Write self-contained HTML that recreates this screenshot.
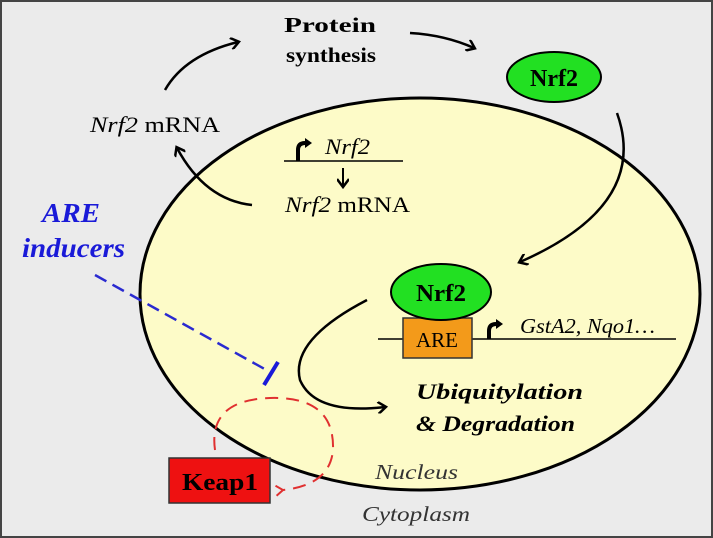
<!DOCTYPE html>
<html><head><meta charset="utf-8"><style>
html,body{margin:0;padding:0;background:#fff}
svg{display:block}
text{font-family:"Liberation Serif",serif}
</style></head><body>
<svg width="713" height="538" viewBox="0 0 713 538" xmlns="http://www.w3.org/2000/svg">
<defs>
<marker id="ah" markerWidth="12" markerHeight="12" refX="8" refY="6" orient="auto" markerUnits="userSpaceOnUse">
<path d="M1,0 L9,6 L1,12" fill="none" stroke="#000" stroke-width="2.5"/></marker>
<marker id="ar" markerWidth="12" markerHeight="12" refX="3" refY="6" orient="auto" markerUnits="userSpaceOnUse">
<path d="M10,1 L3,6 L10,11" fill="none" stroke="#e03030" stroke-width="2"/></marker>
</defs>
<rect x="1" y="1" width="711" height="536" fill="#ebebeb" stroke="#444" stroke-width="2"/>
<ellipse cx="420" cy="294" rx="280" ry="196" fill="#fdfbc8" stroke="#000" stroke-width="3"/>
<path d="M165,90 Q185,55 238,42" fill="none" stroke="#000" stroke-width="2.5" marker-end="url(#ah)"/>
<path d="M410,33 Q445,35 474,48" fill="none" stroke="#000" stroke-width="2.5" marker-end="url(#ah)"/>
<text x="284" y="32" font-size="21" font-weight="bold" textLength="92" lengthAdjust="spacingAndGlyphs">Protein</text>
<text x="286" y="62" font-size="21" font-weight="bold" textLength="90" lengthAdjust="spacingAndGlyphs">synthesis</text>
<ellipse cx="554" cy="77" rx="47" ry="25" fill="#22e022" stroke="#000" stroke-width="2"/>
<text x="530" y="86" font-size="24" font-weight="bold" textLength="48" lengthAdjust="spacingAndGlyphs">Nrf2</text>
<text x="90" y="132" font-size="22" textLength="130" lengthAdjust="spacingAndGlyphs"><tspan font-style="italic">Nrf2</tspan> mRNA</text>
<path d="M252,205 Q205,200 177,148" fill="none" stroke="#000" stroke-width="2.5" marker-end="url(#ah)"/>
<line x1="284" y1="161" x2="403" y2="161" stroke="#000" stroke-width="1.5"/>
<path d="M298,161 V150 Q298,143 305,143" fill="none" stroke="#000" stroke-width="4"/>
<path d="M305,138 L312,143 L305,148Z" fill="#000"/>
<text x="325" y="154" font-size="22" font-style="italic" textLength="45" lengthAdjust="spacingAndGlyphs">Nrf2</text>
<line x1="343" y1="168" x2="343" y2="186" stroke="#000" stroke-width="2" marker-end="url(#ah)"/>
<text x="285" y="212" font-size="22" textLength="125" lengthAdjust="spacingAndGlyphs"><tspan font-style="italic">Nrf2</tspan> mRNA</text>
<path d="M617,113 Q650,205 520,262" fill="none" stroke="#000" stroke-width="2.5" marker-end="url(#ah)"/>
<text x="42" y="222" font-size="27" font-weight="bold" font-style="italic" fill="#1a1ad8" textLength="58" lengthAdjust="spacingAndGlyphs">ARE</text>
<text x="22" y="257" font-size="27" font-weight="bold" font-style="italic" fill="#1a1ad8" textLength="103" lengthAdjust="spacingAndGlyphs">inducers</text>
<line x1="95" y1="275" x2="270" y2="372" stroke="#2a2ad0" stroke-width="2.5" stroke-dasharray="13,7"/>
<line x1="264" y1="385" x2="278" y2="362" stroke="#1a1ad8" stroke-width="4"/>
<line x1="378" y1="339" x2="676" y2="339" stroke="#000" stroke-width="1.5"/>
<rect x="403" y="318" width="69" height="40" fill="#f39a1a" stroke="#333" stroke-width="1.5"/>
<text x="437" y="347" font-size="21" text-anchor="middle">ARE</text>
<ellipse cx="441" cy="292" rx="50" ry="28" fill="#22e022" stroke="#000" stroke-width="2"/>
<text x="416" y="301" font-size="24" font-weight="bold" textLength="50" lengthAdjust="spacingAndGlyphs">Nrf2</text>
<path d="M489,339 V331 Q489,324 496,324" fill="none" stroke="#000" stroke-width="4"/>
<path d="M496,319 L503,324 L496,329Z" fill="#000"/>
<text x="520" y="333" font-size="21" font-style="italic" textLength="135" lengthAdjust="spacingAndGlyphs">GstA2, Nqo1…</text>
<path d="M367,300 Q290,340 300,380 Q315,415 385,407" fill="none" stroke="#000" stroke-width="2.5" marker-end="url(#ah)"/>
<text x="416" y="399" font-size="22" font-weight="bold" font-style="italic" textLength="167" lengthAdjust="spacingAndGlyphs">Ubiquitylation</text>
<text x="416" y="431" font-size="22" font-weight="bold" font-style="italic" textLength="159" lengthAdjust="spacingAndGlyphs">&amp; Degradation</text>
<path d="M215,450 Q208,400 270,398 Q335,396 333,450 Q330,485 283,490" fill="none" stroke="#e03030" stroke-width="2" stroke-dasharray="13,8" marker-end="url(#ar)"/>
<rect x="169" y="458" width="101" height="45" fill="#ee1111" stroke="#333" stroke-width="1.5"/>
<text x="182" y="490" font-size="24" font-weight="bold" textLength="76" lengthAdjust="spacingAndGlyphs">Keap1</text>
<text x="375" y="479" font-size="21" font-style="italic" fill="#333" textLength="83" lengthAdjust="spacingAndGlyphs">Nucleus</text>
<text x="362" y="521" font-size="21" font-style="italic" fill="#333" textLength="108" lengthAdjust="spacingAndGlyphs">Cytoplasm</text>
</svg>
</body></html>
